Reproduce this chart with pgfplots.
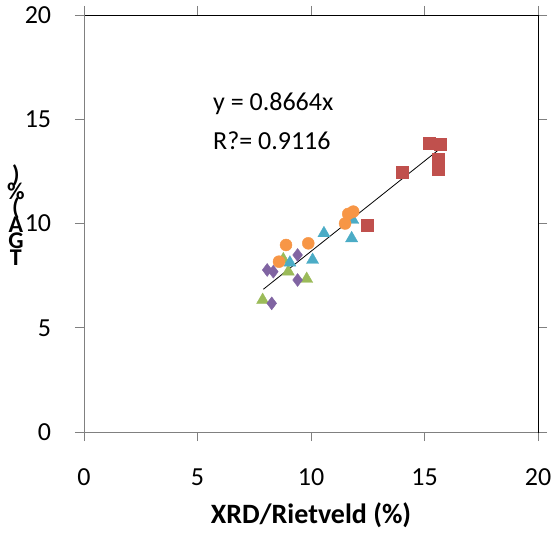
\documentclass[border=0pt]{standalone}
\usepackage{pgfplots}
\pgfplotsset{compat=1.18}
\usepackage{fontspec}
\setmainfont{Carlito}
\definecolor{cred}{HTML}{C0504D}
\definecolor{cgreen}{HTML}{9BBB59}
\definecolor{cpurple}{HTML}{8064A2}
\definecolor{cteal}{HTML}{4BACC6}
\definecolor{corange}{HTML}{F79646}
\begin{document}
\fontsize{26bp}{30bp}\selectfont
\begin{tikzpicture}
\begin{axis}[
	scale only axis,
	width=454bp,
	height=417bp,
	xmin=0, xmax=20,
	ymin=0, ymax=20,
	xtick={0,5,10,15,20},
	ytick={0,5,10,15,20},
	tick align=outside,
	major tick length=9bp,
	tick style={gray, line width=1pt},
	axis line style={black, line width=1pt},
	/pgf/number format/assume math mode=true,
	ticklabel style={font=\fontsize{26bp}{30bp}\selectfont},
	xticklabel style={yshift=-19bp},
	yticklabel style={xshift=-15bp},
	xlabel={\textbf{XRD/Rietveld (\%)}},
	x label style={font=\fontsize{28bp}{32bp}\selectfont, at={(axis description cs:0.5,-0.2)}, anchor=center},
	ylabel={\vbox{\baselineskip=16.5bp\lineskiplimit=-100pt\lineskip=0pt
		\halign{\hfil#\hfil\cr )\cr \%\cr (\cr A\cr G\cr T\cr}}},
	y label style={font=\fontsize{24bp}{30bp}\selectfont\bfseries, rotate=-90, at={(axis description cs:-0.15,0.52)}, anchor=center},
	clip=false,
]
\draw[gray, line width=1pt] (rel axis cs:0,1) -- (rel axis cs:0,0) -- (rel axis cs:1,0);
% trend line y = 0.8664x
\addplot[black, line width=0.8pt] coordinates {(7.9,6.845) (15.7,13.602)};
% red squares
\addplot[only marks, mark=square*, mark size=6bp, color=cred] coordinates {
(12.48,9.93) (14.0,12.44) (15.21,13.85) (15.71,13.81) (15.61,13.1) (15.61,12.85) (15.61,12.6)
};
% green triangles
\addplot[only marks, mark=triangle*, mark size=7bp, color=cgreen] coordinates {
(8.78,8.28) (9.0,7.69) (9.81,7.34) (7.87,6.33)
};
% purple diamonds
\addplot[only marks, mark=diamond*, mark size=6.5bp, color=cpurple] coordinates {
(8.07,7.77) (8.34,7.69) (9.41,8.49) (9.41,7.29) (8.27,6.17)
};
% teal triangles
\addplot[only marks, mark=triangle*, mark size=7bp, color=cteal] coordinates {
(9.07,8.12) (10.07,8.25) (10.57,9.53) (11.79,9.29) (11.84,10.17)
};
% orange circles
\addplot[only marks, mark=*, mark size=6bp, color=corange] coordinates {
(8.9,8.97) (9.88,9.05) (8.59,8.17) (11.5,10.0) (11.64,10.46) (11.86,10.57)
};
\node[anchor=west, inner sep=0pt] at (axis cs:5.68,15.73) {y = 0.8664x};
\node[anchor=west, inner sep=0pt] at (axis cs:5.68,13.96) {R?= 0.9116};
\end{axis}
\pgfresetboundingbox
\path (current axis.south west) ++(-84bp,-103bp) coordinate (bl);
\path (current axis.north east) ++(14bp,15bp) coordinate (tr);
\path (bl) rectangle (tr);
\end{tikzpicture}
\end{document}
